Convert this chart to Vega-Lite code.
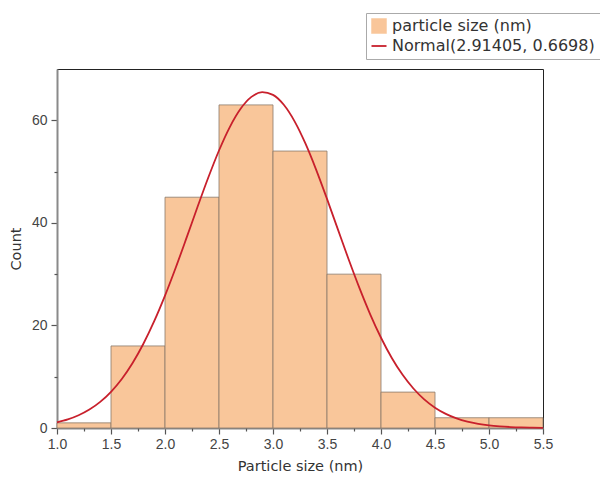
{
  "$schema": "https://vega.github.io/schema/vega-lite/v6.json",
  "autosize": "none",
  "padding": {"left": 57, "top": 69, "right": 57, "bottom": 52},
  "width": 486,
  "height": 359,
  "background": "white",
  "config": {
    "font": "Liberation Sans",
    "view": {"stroke": "#222222", "strokeWidth": 1},
    "axis": {"grid": false, "domainColor": "#8a8a8a", "domainWidth": 2, "tickColor": "#555555", "tickWidth": 1.2, "labelColor": "#444444", "titleColor": "#333333", "labelFontSize": 14, "labelFont": "Liberation Sans", "titleFont": "DejaVu Sans", "titleFontSize": 14.5, "titleFontWeight": "normal", "labelFlush": false},
    "legend": {"labelFont": "DejaVu Sans"}
  },
  "datasets": {
    "bins": [
      {"lo": 1.0, "hi": 1.5, "count": 1, "series": "particle size (nm)"},
      {"lo": 1.5, "hi": 2.0, "count": 16, "series": "particle size (nm)"},
      {"lo": 2.0, "hi": 2.5, "count": 45, "series": "particle size (nm)"},
      {"lo": 2.5, "hi": 3.0, "count": 63, "series": "particle size (nm)"},
      {"lo": 3.0, "hi": 3.5, "count": 54, "series": "particle size (nm)"},
      {"lo": 3.5, "hi": 4.0, "count": 30, "series": "particle size (nm)"},
      {"lo": 4.0, "hi": 4.5, "count": 7, "series": "particle size (nm)"},
      {"lo": 4.5, "hi": 5.0, "count": 2, "series": "particle size (nm)"},
      {"lo": 5.0, "hi": 5.5, "count": 2, "series": "particle size (nm)"}
    ],
    "curve": [
      {"x": 1.0, "y": 1.10, "series": "Normal(2.91405, 0.6698)"}, {"x": 1.1, "y": 1.67, "series": "Normal(2.91405, 0.6698)"},
      {"x": 1.2, "y": 2.48, "series": "Normal(2.91405, 0.6698)"}, {"x": 1.3, "y": 3.59, "series": "Normal(2.91405, 0.6698)"},
      {"x": 1.4, "y": 5.09, "series": "Normal(2.91405, 0.6698)"}, {"x": 1.5, "y": 7.06, "series": "Normal(2.91405, 0.6698)"},
      {"x": 1.6, "y": 9.56, "series": "Normal(2.91405, 0.6698)"}, {"x": 1.7, "y": 12.67, "series": "Normal(2.91405, 0.6698)"},
      {"x": 1.8, "y": 16.43, "series": "Normal(2.91405, 0.6698)"}, {"x": 1.9, "y": 20.83, "series": "Normal(2.91405, 0.6698)"},
      {"x": 2.0, "y": 25.82, "series": "Normal(2.91405, 0.6698)"}, {"x": 2.1, "y": 31.30, "series": "Normal(2.91405, 0.6698)"},
      {"x": 2.2, "y": 37.11, "series": "Normal(2.91405, 0.6698)"}, {"x": 2.3, "y": 43.03, "series": "Normal(2.91405, 0.6698)"},
      {"x": 2.4, "y": 48.79, "series": "Normal(2.91405, 0.6698)"}, {"x": 2.5, "y": 54.11, "series": "Normal(2.91405, 0.6698)"},
      {"x": 2.6, "y": 58.68, "series": "Normal(2.91405, 0.6698)"}, {"x": 2.7, "y": 62.24, "series": "Normal(2.91405, 0.6698)"},
      {"x": 2.8, "y": 64.56, "series": "Normal(2.91405, 0.6698)"}, {"x": 2.9, "y": 65.49, "series": "Normal(2.91405, 0.6698)"},
      {"x": 3.0, "y": 64.96, "series": "Normal(2.91405, 0.6698)"}, {"x": 3.1, "y": 63.02, "series": "Normal(2.91405, 0.6698)"},
      {"x": 3.2, "y": 59.79, "series": "Normal(2.91405, 0.6698)"}, {"x": 3.3, "y": 55.48, "series": "Normal(2.91405, 0.6698)"},
      {"x": 3.4, "y": 50.34, "series": "Normal(2.91405, 0.6698)"}, {"x": 3.5, "y": 44.67, "series": "Normal(2.91405, 0.6698)"},
      {"x": 3.6, "y": 38.77, "series": "Normal(2.91405, 0.6698)"}, {"x": 3.7, "y": 32.90, "series": "Normal(2.91405, 0.6698)"},
      {"x": 3.8, "y": 27.31, "series": "Normal(2.91405, 0.6698)"}, {"x": 3.9, "y": 22.17, "series": "Normal(2.91405, 0.6698)"},
      {"x": 4.0, "y": 17.60, "series": "Normal(2.91405, 0.6698)"}, {"x": 4.1, "y": 13.66, "series": "Normal(2.91405, 0.6698)"},
      {"x": 4.2, "y": 10.37, "series": "Normal(2.91405, 0.6698)"}, {"x": 4.3, "y": 7.70, "series": "Normal(2.91405, 0.6698)"},
      {"x": 4.4, "y": 5.59, "series": "Normal(2.91405, 0.6698)"}, {"x": 4.5, "y": 3.97, "series": "Normal(2.91405, 0.6698)"},
      {"x": 4.6, "y": 2.76, "series": "Normal(2.91405, 0.6698)"}, {"x": 4.7, "y": 1.87, "series": "Normal(2.91405, 0.6698)"},
      {"x": 4.8, "y": 1.24, "series": "Normal(2.91405, 0.6698)"}, {"x": 4.9, "y": 0.81, "series": "Normal(2.91405, 0.6698)"},
      {"x": 5.0, "y": 0.51, "series": "Normal(2.91405, 0.6698)"}, {"x": 5.1, "y": 0.32, "series": "Normal(2.91405, 0.6698)"},
      {"x": 5.2, "y": 0.19, "series": "Normal(2.91405, 0.6698)"}, {"x": 5.3, "y": 0.11, "series": "Normal(2.91405, 0.6698)"},
      {"x": 5.4, "y": 0.07, "series": "Normal(2.91405, 0.6698)"}, {"x": 5.5, "y": 0.04, "series": "Normal(2.91405, 0.6698)"}
    ]
  },
  "resolve": {"axis": {"x": "independent", "y": "independent"}},
  "layer": [
    {
      "data": {"name": "bins"},
      "mark": {"type": "rect", "stroke": "#8a7a6a", "strokeWidth": 0.8},
      "encoding": {
        "x": {"field": "lo", "type": "quantitative", "scale": {"domain": [1.0, 5.5], "nice": false},
          "axis": {"title": "Particle size (nm)", "values": [1.0, 1.5, 2.0, 2.5, 3.0, 3.5, 4.0, 4.5, 5.0, 5.5], "format": ".1f", "tickSize": 6, "labelPadding": 3, "titlePadding": 8}},
        "x2": {"field": "hi"},
        "y": {"field": "count", "type": "quantitative", "scale": {"domain": [0, 70], "nice": false},
          "axis": {"title": "Count", "values": [0, 20, 40, 60], "tickSize": 6, "labelPadding": 4, "titlePadding": 8}},
        "y2": {"datum": 0},
        "color": {"field": "series", "type": "nominal",
          "scale": {"domain": ["particle size (nm)", "Normal(2.91405, 0.6698)"], "range": ["#f9c69a", "#c8202c"]},
          "legend": {"orient": "none", "legendX": 309, "legendY": -56, "title": null, "strokeColor": "#aaaaaa", "padding": 5,
            "symbolSize": 225, "symbolStrokeWidth": 1.8, "labelFontSize": 16, "labelColor": "#333333", "labelOffset": 5, "rowPadding": 3,
            "labelLimit": 300,
            "encode": {"symbols": {"update": {
              "shape": {"signal": "datum.value === 'particle size (nm)' ? 'square' : 'stroke'"},
              "fill": {"signal": "datum.value === 'particle size (nm)' ? '#f9c69a' : 'transparent'"},
              "stroke": {"signal": "datum.value === 'particle size (nm)' ? '#e0a070' : '#c8202c'"},
              "strokeWidth": {"signal": "datum.value === 'particle size (nm)' ? 0.5 : 1.8"}
            }}}}
        }
      }
    },
    {
      "data": {"name": "bins"},
      "mark": {"type": "rule", "strokeWidth": 1},
      "encoding": {
        "x": {"field": "lo", "type": "quantitative",
          "axis": {"orient": "bottom", "values": [1.25, 1.75, 2.25, 2.75, 3.25, 3.75, 4.25, 4.75, 5.25], "labels": false, "title": null, "tickSize": 3, "domain": false}},
        "opacity": {"value": 0}
      }
    },
    {
      "data": {"name": "bins"},
      "mark": {"type": "rule", "strokeWidth": 1},
      "encoding": {
        "y": {"field": "count", "type": "quantitative",
          "axis": {"orient": "left", "values": [10, 30, 50], "labels": false, "title": null, "tickSize": 3, "domain": false}},
        "opacity": {"value": 0}
      }
    },
    {
      "data": {"name": "curve"},
      "mark": {"type": "line", "strokeWidth": 1.8, "interpolate": "monotone"},
      "encoding": {
        "x": {"field": "x", "type": "quantitative", "axis": null},
        "y": {"field": "y", "type": "quantitative", "axis": null},
        "color": {"field": "series", "type": "nominal",
          "legend": {"orient": "none", "legendX": 309, "legendY": -56, "title": null, "strokeColor": "#aaaaaa", "padding": 5,
            "symbolSize": 225, "symbolStrokeWidth": 1.8, "labelFontSize": 16, "labelColor": "#333333", "labelOffset": 5, "rowPadding": 3,
            "labelLimit": 300,
            "encode": {"symbols": {"update": {
              "shape": {"signal": "datum.value === 'particle size (nm)' ? 'square' : 'stroke'"},
              "fill": {"signal": "datum.value === 'particle size (nm)' ? '#f9c69a' : 'transparent'"},
              "stroke": {"signal": "datum.value === 'particle size (nm)' ? '#e0a070' : '#c8202c'"},
              "strokeWidth": {"signal": "datum.value === 'particle size (nm)' ? 0.5 : 1.8"}
            }}}}
        }
      }
    }
  ]
}
